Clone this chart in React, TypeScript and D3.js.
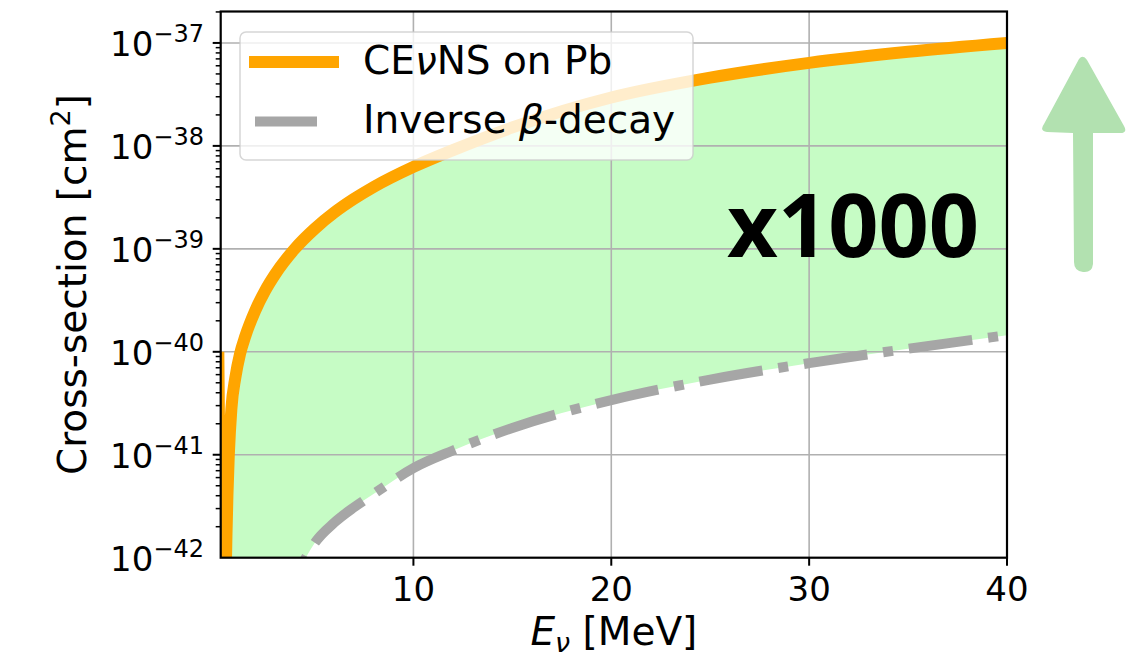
import React, { useEffect, useRef } from 'react';
import * as d3 from 'd3';

// CEvNS on Pb cross-section
const cevnsEnergy = [0.14, 0.36, 0.5, 0.55, 0.6, 0.67, 0.8, 1.0, 1.24, 1.5, 2, 2.5, 3, 4, 5, 6, 7, 8, 10, 12, 15, 20, 25, 30, 35, 40];
const cevnsSigma = [1.0e-40, 1e-43, 5.0e-43, 1.6e-42, 4.0e-42, 1.0e-41, 2.8e-41, 5.6e-41, 9.6e-41, 1.41e-40, 2.5e-40, 3.91e-40, 5.62e-40, 1.0e-39, 1.56e-39, 2.25e-39, 3.06e-39, 4.0e-39, 6.25e-39, 9.1e-39, 1.51e-38, 2.95e-38, 4.6e-38, 6.4e-38, 8.2e-38, 1.0e-37];

// Inverse beta decay cross-section
const ibdEnergy = [4.5, 5, 6, 7, 8, 10, 12, 15, 20, 25, 30, 35, 40];
const ibdSigma = [9.5e-43, 1.38e-42, 2.19e-42, 3.09e-42, 4.17e-42, 7.41e-42, 1.1e-41, 1.82e-41, 3.39e-41, 5.37e-41, 7.76e-41, 1.07e-40, 1.45e-40];

const xTickValues = [10, 20, 30, 40];
const yDecades = [-42, -41, -40, -39, -38, -37];

const FONT = 'DejaVu Sans';

const App = () => {
  const svgRef = useRef(null);

  useEffect(() => {
    const svg = d3.select(svgRef.current);
    svg.selectAll('*').remove();

    const left = 220.7, right = 1007, top = 11.5, bottom = 557.7;
    const x = d3.scaleLinear().domain([0.26, 40]).range([left, right]);
    const y = d3.scaleLog().domain([1e-42, 2.02e-37]).range([bottom, top]);

    const cevns = cevnsEnergy.map((e, i) => ({ e, s: cevnsSigma[i] }));
    const ibd = ibdEnergy.map((e, i) => ({ e, s: ibdSigma[i] }));

    const defs = svg.append('defs');
    defs.append('clipPath').attr('id', 'plot-clip')
      .append('rect')
      .attr('x', left).attr('y', top)
      .attr('width', right - left).attr('height', bottom - top);

    // region above the IBD curve (used to cut the fill)
    const aboveIbd = defs.append('clipPath').attr('id', 'above-ibd');
    aboveIbd.append('path')
      .attr('d', d3.area()
        .x(d => x(d.e))
        .y0(d => y(d.s))
        .y1(top - 50)
        .curve(d3.curveMonotoneX)(ibd));
    aboveIbd.append('rect')
      .attr('x', 0).attr('y', 0)
      .attr('width', x(ibdEnergy[0]) + 0.5).attr('height', 700);

    const plot = svg.append('g').attr('clip-path', 'url(#plot-clip)');

    // green band between the two curves
    plot.append('g').attr('clip-path', 'url(#above-ibd)')
      .append('path')
      .attr('d', d3.area()
        .x(d => x(d.e))
        .y0(bottom + 200)
        .y1(d => y(d.s))
        .curve(d3.curveMonotoneX)(cevns.filter(d => d.e >= 0.5)))
      .attr('fill', '#c6fcc5');

    // grid
    xTickValues.forEach(v => {
      plot.append('line')
        .attr('x1', x(v)).attr('x2', x(v))
        .attr('y1', top).attr('y2', bottom)
        .attr('stroke', '#b0b0b0').attr('stroke-width', 1.6);
    });
    yDecades.forEach(p => {
      plot.append('line')
        .attr('x1', left).attr('x2', right)
        .attr('y1', y(Math.pow(10, p))).attr('y2', y(Math.pow(10, p)))
        .attr('stroke', '#b0b0b0').attr('stroke-width', 1.6);
    });

    const line = d3.line()
      .x(d => x(d.e))
      .y(d => y(d.s))
      .curve(d3.curveMonotoneX);

    plot.append('path')
      .attr('d', line(ibd))
      .attr('fill', 'none')
      .attr('stroke', '#a6a6a6')
      .attr('stroke-width', 10)
      .attr('stroke-dasharray', '64,16,10,16')
      .attr('stroke-dashoffset', 86);

    plot.append('path')
      .attr('d', line(cevns))
      .attr('fill', 'none')
      .attr('stroke', '#ffa500')
      .attr('stroke-width', 12)
      .attr('stroke-linejoin', 'round');

    // spines
    svg.append('rect')
      .attr('x', left).attr('y', top)
      .attr('width', right - left).attr('height', bottom - top)
      .attr('fill', 'none').attr('stroke', '#000').attr('stroke-width', 2.2);

    // x ticks
    xTickValues.forEach(v => {
      svg.append('line')
        .attr('x1', x(v)).attr('x2', x(v))
        .attr('y1', bottom).attr('y2', bottom + 8)
        .attr('stroke', '#000').attr('stroke-width', 2);
      svg.append('text')
        .attr('x', x(v)).attr('y', 601)
        .attr('text-anchor', 'middle')
        .style('font-family', FONT).style('font-size', '34px')
        .text(v);
    });

    // y ticks
    y.ticks().forEach(v => {
      const p = Math.log10(v);
      const major = Math.abs(p - Math.round(p)) < 1e-6;
      svg.append('line')
        .attr('x1', left - (major ? 8 : 5)).attr('x2', left)
        .attr('y1', y(v)).attr('y2', y(v))
        .attr('stroke', '#000').attr('stroke-width', major ? 2 : 1.5);
    });
    yDecades.forEach(p => {
      const t = svg.append('text')
        .attr('x', 204).attr('y', y(Math.pow(10, p)) + 13)
        .attr('text-anchor', 'end')
        .style('font-family', FONT).style('font-size', '34px');
      t.append('tspan').text('10');
      t.append('tspan').attr('dy', -14).style('font-size', '24px').text('\u2212' + Math.abs(p));
    });

    // axis labels
    const xl = svg.append('text')
      .attr('x', (left + right) / 2).attr('y', 645)
      .attr('text-anchor', 'middle')
      .style('font-family', FONT).style('font-size', '39px');
    xl.append('tspan').style('font-style', 'italic').text('E');
    xl.append('tspan').style('font-style', 'italic').style('font-size', '27px').attr('dy', 7).text('ν');
    xl.append('tspan').attr('dy', -7).text(' [MeV]');

    const yl = svg.append('text')
      .attr('transform', `translate(86, ${(top + bottom) / 2}) rotate(-90)`)
      .attr('text-anchor', 'middle')
      .style('font-family', FONT).style('font-size', '39px');
    yl.append('tspan').text('Cross-section [cm');
    yl.append('tspan').attr('dy', -16).style('font-size', '27px').text('2');
    yl.append('tspan').attr('dy', 16).text(']');

    // legend
    const lg = svg.append('g');
    lg.append('rect')
      .attr('x', 240).attr('y', 32).attr('width', 453).attr('height', 128)
      .attr('rx', 6)
      .attr('fill', '#fff').attr('fill-opacity', 0.8)
      .attr('stroke', '#cccccc').attr('stroke-opacity', 0.8).attr('stroke-width', 1.5);
    lg.append('line')
      .attr('x1', 255).attr('x2', 333).attr('y1', 62).attr('y2', 62)
      .attr('stroke', '#ffa500').attr('stroke-width', 12).attr('stroke-linecap', 'square');
    lg.append('line')
      .attr('x1', 255).attr('x2', 331).attr('y1', 121.5).attr('y2', 121.5)
      .attr('stroke', '#a6a6a6').attr('stroke-width', 10).attr('stroke-dasharray', '62,16,10,16');
    const t1 = lg.append('text').attr('x', 363).attr('y', 74)
      .style('font-family', FONT).style('font-size', '39px');
    t1.append('tspan').text('CE');
    t1.append('tspan').style('font-style', 'italic').text('ν');
    t1.append('tspan').text('NS on Pb');
    const t2 = lg.append('text').attr('x', 363).attr('y', 133)
      .style('font-family', FONT).style('font-size', '39px');
    t2.append('tspan').text('Inverse ');
    t2.append('tspan').style('font-style', 'italic').text('β');
    t2.append('tspan').text('-decay');

    // annotation
    svg.append('text')
      .attr('x', 727).attr('y', 257)
      .style('font-family', 'Open Sans').style('font-weight', 700).style('font-size', '88px')
      .text('x1000');

    svg.append('path')
      .attr('d', 'M1079,59 Q1083,54 1087,60 L1124,126 Q1128,133 1120,133 L1093,133 L1093,264 Q1092,273 1083,272 Q1074,271 1074,262 L1073,133 L1047,132 Q1039,131 1044,124 Z')
      .attr('fill', '#b2e1b0');
  }, []);

  return (
    <svg
      ref={svgRef}
      width={1129}
      height={658}
      style={{ position: 'absolute', left: 0, top: 0, background: '#fff' }}
    />
  );
};

export default App;
